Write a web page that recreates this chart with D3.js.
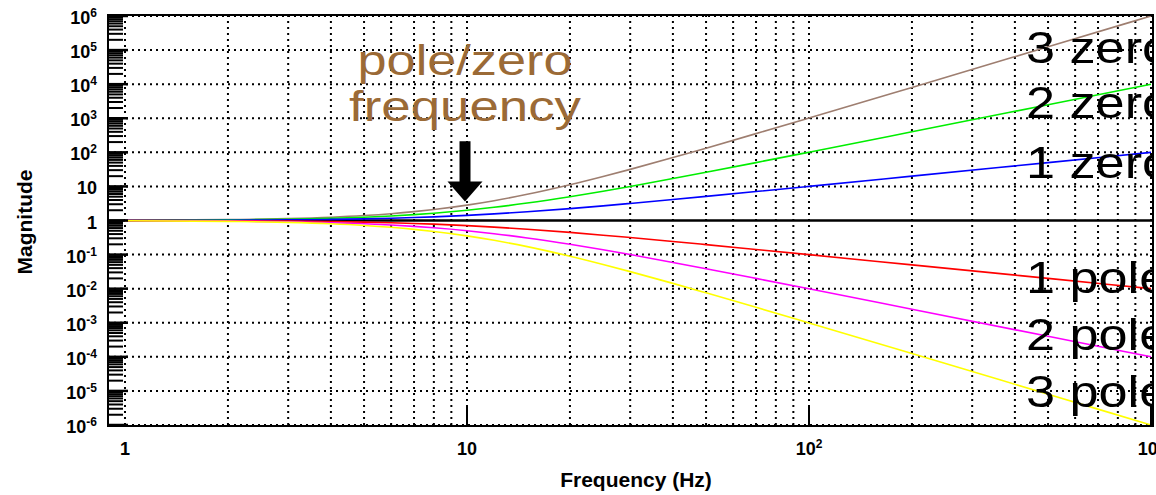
<!DOCTYPE html>
<html><head><meta charset="utf-8">
<script src="https://cdn.jsdelivr.net/npm/d3@7"></script>
<style>body{margin:0;background:#fff}svg{display:block}</style>
</head><body><svg id="c" width="1156" height="495"></svg>
<script>
// ---- data ----
const freqs = [1,2,3,4,5,6,7,8,10,12,15,20,25,30,40,50,70,100,200,500,1000];
const zero1 = [1.005,1.020,1.044,1.077,1.118,1.166,1.221,1.281,1.414,1.562,1.803,2.236,2.693,3.162,4.123,5.099,7.071,10.05,20.02,50.01,100.0];
const zero2 = [1.01,1.04,1.09,1.16,1.25,1.36,1.49,1.64,2,2.44,3.25,5,7.25,10,17,26,50,101,401,2501,10001];
const zero3 = [1.015,1.061,1.138,1.249,1.398,1.586,1.819,2.101,2.828,3.811,5.859,11.18,19.52,31.62,70.09,132.6,353.6,1015,8028,125075,1000150];
const pole1 = [0.995,0.981,0.958,0.928,0.894,0.857,0.819,0.781,0.707,0.640,0.555,0.447,0.371,0.316,0.243,0.196,0.141,0.0995,0.0499,0.0200,0.0100];
const pole2 = [0.990,0.962,0.917,0.862,0.800,0.735,0.671,0.610,0.500,0.410,0.308,0.200,0.138,0.100,0.0588,0.0385,0.0200,0.0099,0.00249,0.00040,0.00010];
const pole3 = [0.985,0.943,0.879,0.801,0.716,0.631,0.550,0.476,0.354,0.262,0.171,0.0894,0.0512,0.0316,0.0143,0.00754,0.00283,0.000985,0.000125,0.0000080,0.0000010];
const seriesNames = ["3 zero","2 zero","1 zero","1 pole","2 pole","3 pole"];
const seriesColors = ["#9e7e70","#00ee00","#0000ff","#ff0000","#ff00ff","#ffff00"];
const xTickValues = [1,10,100,1000];
const xTickExp = [0,1,2,3];
const yTickExp = [6,5,4,3,2,1,0,-1,-2,-3,-4,-5,-6];
const annotationLines = ["pole/zero","frequency"];
const annotationFreq = 10;
const arrowTipMag = 3.6, arrowBaseMag = 210, arrowHeadMag = 14;

// ---- layout ----
const svg = d3.select("#c");
const L = 108, R = 1153, T = 15, B = 426;
const x = d3.scaleLog().domain([1,1000]).range([125,1151]);
const y = d3.scaleLog().domain([1e-6,1e6]).range([425,16]);
const F = "'Liberation Sans', Arial, Helvetica, sans-serif";

svg.append("defs").append("clipPath").attr("id","clip")
  .append("rect").attr("x",L).attr("y",T).attr("width",R-L).attr("height",B-T);

const g = svg.append("g");

// vertical dotted grid at every 1..9 x decade
const xMinor = [];
for (let e=0;e<3;e++) for (let k=1;k<=9;k++) xMinor.push(k*Math.pow(10,e));
xMinor.push(1000);
g.selectAll(".vg").data(xMinor).join("line")
  .attr("x1",d=>x(d)).attr("x2",d=>x(d)).attr("y1",T).attr("y2",B)
  .attr("stroke","#000").attr("stroke-width",2).attr("stroke-dasharray","2,4");

// horizontal dotted grid at each decade
g.selectAll(".hg").data(yTickExp.filter(e=>e!==0)).join("line")
  .attr("x1",L).attr("x2",R).attr("y1",d=>y(Math.pow(10,d))).attr("y2",d=>y(Math.pow(10,d)))
  .attr("stroke","#000").attr("stroke-width",2).attr("stroke-dasharray","2,4");

// solid line at magnitude 1
g.append("line").attr("x1",L).attr("x2",R).attr("y1",y(1)).attr("y2",y(1))
  .attr("stroke","#000").attr("stroke-width",2.5);

// curves
const allSeries = [zero3,zero2,zero1,pole1,pole2,pole3];
const line = d3.line().x((d,i)=>x(freqs[i])).y(d=>y(d)).curve(d3.curveMonotoneX);
const cg = svg.append("g").attr("clip-path","url(#clip)");
allSeries.forEach((s,i)=>{
  cg.append("path").attr("d",line(s)).attr("fill","none")
    .attr("stroke",seriesColors[i]).attr("stroke-width",1.6);
});

// big labels (clipped by the plot frame, as in the original)
const lg = svg.append("g").attr("clip-path","url(#clip)");
const labelBase = [63,118,178,293,350,407];
seriesNames.forEach((n,i)=>{
  lg.append("text").attr("transform",`translate(1026,${labelBase[i]}) scale(1.16,1)`)
    .attr("font-family",F).attr("font-size",45).attr("fill","#000").text(n);
});

// frame
svg.append("rect").attr("x",L).attr("y",T).attr("width",R-L).attr("height",B-T)
  .attr("fill","none").attr("stroke","#000").attr("stroke-width",2);

// y ticks
const yMinor = [];
for (let e=-6;e<6;e++) for (let k=2;k<=9;k++) yMinor.push(k*Math.pow(10,e));
svg.selectAll(".ym").data(yMinor).join("line")
  .attr("x1",L).attr("x2",L+15).attr("y1",d=>y(d)).attr("y2",d=>y(d))
  .attr("stroke","#000").attr("stroke-width",2);
svg.selectAll(".yM").data(yTickExp).join("line")
  .attr("x1",L).attr("x2",L+20).attr("y1",d=>y(Math.pow(10,d))).attr("y2",d=>y(Math.pow(10,d)))
  .attr("stroke","#000").attr("stroke-width",2.5);
// x major ticks
svg.selectAll(".xM").data(xTickValues.slice(1)).join("line")
  .attr("x1",d=>x(d)).attr("x2",d=>x(d)).attr("y1",B).attr("y2",B-20)
  .attr("stroke","#000").attr("stroke-width",2);

// y tick labels
yTickExp.forEach(e=>{
  const t = svg.append("text").attr("x",97).attr("y",y(Math.pow(10,e))+8)
    .attr("text-anchor","end").attr("font-family",F).attr("font-weight","bold")
    .attr("font-size",18).attr("fill","#000");
  if (e===0) t.text("1");
  else if (e===1) t.text("10");
  else { t.append("tspan").text("10"); t.append("tspan").attr("font-size",12).attr("dy",-7).text(String(e)); }
});
// x tick labels
xTickValues.forEach((v,i)=>{
  const e = xTickExp[i];
  const t = svg.append("text").attr("x",x(v)).attr("y",455)
    .attr("text-anchor","middle").attr("font-family",F).attr("font-weight","bold")
    .attr("font-size",18).attr("fill","#000");
  if (e===0) t.text("1");
  else if (e===1) t.text("10");
  else { t.append("tspan").text("10"); t.append("tspan").attr("font-size",12).attr("dy",-7).text(String(e)); }
});

// axis titles
svg.append("text").attr("x",636).attr("y",487).attr("text-anchor","middle")
  .attr("font-family",F).attr("font-weight","bold").attr("font-size",21).text("Frequency (Hz)");
svg.append("text").attr("transform","translate(32,222) rotate(-90)").attr("text-anchor","middle")
  .attr("font-family",F).attr("font-weight","bold").attr("font-size",21).text("Magnitude");

// annotation
const ax = x(annotationFreq) - 2;
svg.append("text").attr("x",ax).attr("y",75).attr("text-anchor","middle")
  .attr("font-family",F).attr("font-size",43).attr("fill","#9b6a36")
  .attr("textLength",215).attr("lengthAdjust","spacingAndGlyphs").text(annotationLines[0]);
svg.append("text").attr("x",ax).attr("y",121).attr("text-anchor","middle")
  .attr("font-family",F).attr("font-size",43).attr("fill","#9b6a36")
  .attr("textLength",232).attr("lengthAdjust","spacingAndGlyphs").text(annotationLines[1]);
const yb = y(arrowBaseMag), yh = y(arrowHeadMag), yt = y(arrowTipMag);
svg.append("path").attr("fill","#000")
  .attr("d",`M${ax-5.5},${yb}L${ax+5.5},${yb}L${ax+5.5},${yh}L${ax+17.5},${yh}L${ax},${yt}L${ax-17.5},${yh}L${ax-5.5},${yh}Z`);
</script></body></html>
